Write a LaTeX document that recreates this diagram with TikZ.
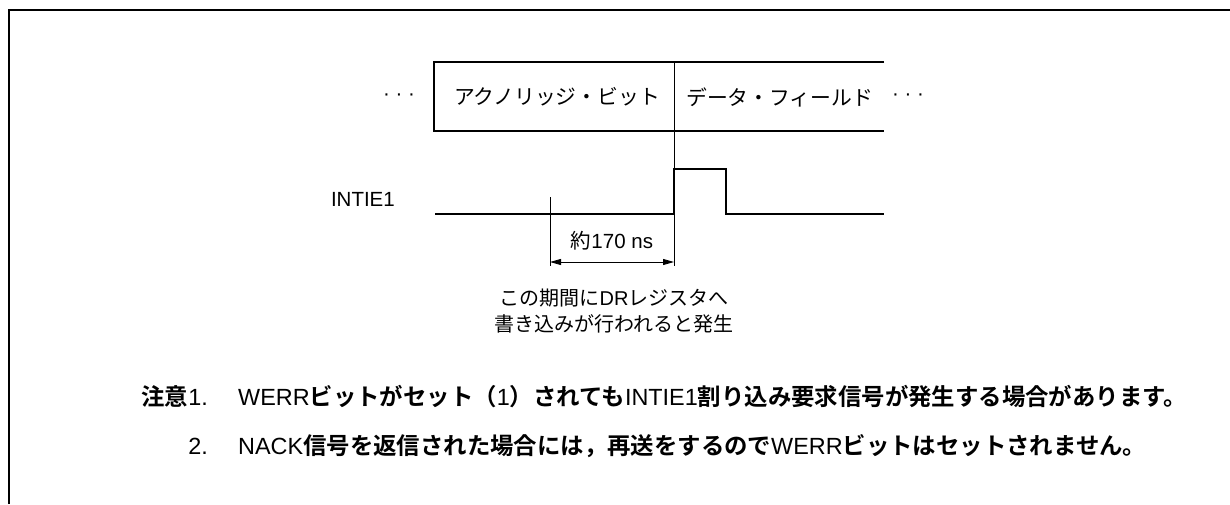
\documentclass[tikz,border=0pt]{standalone}
\usepackage{fontspec}
\setmainfont{Noto Sans CJK JP}[BoldFont={Noto Sans CJK JP Bold}]
\newfontfamily\en{Liberation Sans}
\newcommand\lat[1]{{\en\mdseries #1}}
\usetikzlibrary{arrows.meta}

\tikzset{
  frame/.style={line width=2.4pt},
  boxline/.style={line width=2pt},
  sig/.style={line width=2.2pt},
  guide/.style={line width=0.9pt},
  lbl/.style={inner sep=0pt, font=\fontsize{20.5}{24}\selectfont},
  boxlbl/.style={inner sep=0pt, font=\fontsize{20.8}{24}\selectfont},
  desc/.style={inner sep=0pt, align=center, font=\fontsize{20}{26}\selectfont},
  note/.style={inner sep=0pt, font=\fontsize{23.4}{28}\selectfont\bfseries}
}

\begin{document}
\begin{tikzpicture}[x=1pt,y=-1pt]
  \useasboundingbox (0,0) rectangle (1230,504);

  % outer frame (top and left only)
  \draw[frame] (9,504) -- (9,10) -- (1230,10);

  % frame fields
  \draw[boxline] (884,62) -- (434,62) -- (434,131) -- (884,131);
  \node[lbl]    (dotsL) at (399,97) {\en · · ·};
  \node[boxlbl, anchor=east] (ack)  at (660,97) {アクノリッジ・ビット};
  \node[boxlbl, anchor=west] (data) at (686,97) {データ・フィールド};
  \node[lbl]    (dotsR) at (908,97) {\en · · ·};

  % INTIE1 signal
  \coordinate (s0)   at (435,214);
  \coordinate (rise) at (674,214);
  \coordinate (hi0)  at (674,169);
  \coordinate (hi1)  at (726,169);
  \coordinate (fall) at (726,214);
  \coordinate (s1)   at (884,214);
  \draw[sig] (s0) -- (rise) -- (hi0) -- (hi1) -- (fall) -- (s1);
  \node[lbl, anchor=east] (intie) at (395,199) {\en INTIE1};

  % 170 ns window
  \coordinate (divtop) at (674,62);
  \coordinate (divbot) at (674,266);
  \coordinate (wtop)   at (550,197);
  \coordinate (wbot)   at (550,266);
  \coordinate (aL)     at (550,262);
  \coordinate (aR)     at (674,262);
  \draw[guide] (divtop) -- (divbot);
  \draw[guide] (wtop) -- (wbot);
  \draw[guide, {Triangle[length=11pt,width=6pt]}-{Triangle[length=11pt,width=6pt]}] (aL) -- (aR);
  \node[lbl] (t170) at (612,241) {約\en170 ns};
  \node[desc] (cond) at (614,311)
    {この期間に\lat{DR}レジスタへ\\書き込みが行われると発生};

  % notes
  \node[note, anchor=base east] (n1) at (208,405) {注意\lat{1.}};
  \node[note, anchor=base west] (t1) at (238,405)
    {\lat{WERR}ビットがセット（\lat{1}）されても\lat{INTIE1}割り込み要求信号が発生する場合があります。};
  \node[note, anchor=base east] (n2) at (208,454) {\lat{2.}};
  \node[note, anchor=base west] (t2) at (238,454)
    {\lat{NACK}信号を返信された場合には，再送をするので\lat{WERR}ビットはセットされません。};
\end{tikzpicture}
\end{document}
